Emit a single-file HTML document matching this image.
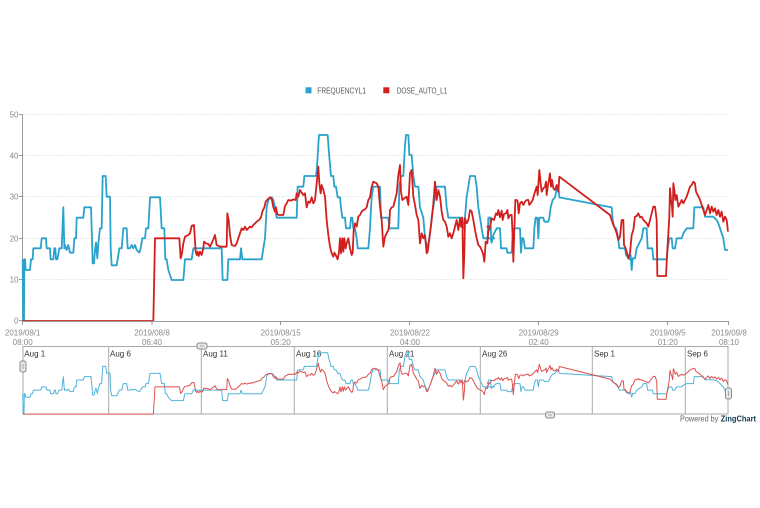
<!DOCTYPE html>
<html><head><meta charset="utf-8"><style>
html,body{margin:0;padding:0;background:#fff;}
svg{display:block;font-family:"Liberation Sans",Arial,sans-serif;}
</style></head><body>
<svg width="760" height="508" viewBox="0 0 760 508" xmlns="http://www.w3.org/2000/svg">
<rect width="760" height="508" fill="#fff"/>
<defs>
<g id="bl" transform="translate(20,120) scale(0.333333)">
<polyline fill="none" vector-effect="non-scaling-stroke" stroke-linejoin="round" points="8,418 10,603 12,603 13,418 15,418 17,450 30,450 33,418 38,418 40,385 62,385 65,355 78,355 80,385 90,385 92,418 100,418 103,385 106,385 108,418 112,418 118,385 125,385 130,262 133,385 135,375 140,390 145,375 150,398 160,398 163,355 168,355 170,293 190,293 193,262 213,262 216,355 218,430 222,430 225,390 228,368 232,415 235,370 240,325 245,325 248,168 257,168 260,230 270,230 272,385 275,436 290,436 293,418 298,385 305,385 310,325 320,325 323,385 330,385 335,375 340,385 345,375 350,390 358,398 362,385 367,355 375,355 378,325 385,325 390,232 420,232 425,325 433,325 436,418 440,418 445,450 455,480 490,480 495,418 515,418 520,385 525,385 605,385 608,480 622,480 625,418 660,418 663,385 667,418 715,418"/>
</g>
<g id="bl2" transform="translate(255,120) scale(0.333333)">
<polyline fill="none" vector-effect="non-scaling-stroke" stroke-linejoin="round" points="10,418 20,418 25,385 30,355 33,300 35,262 40,240 50,232 55,240 60,262 65,293 125,293 128,200 145,200 148,168 183,168 186,140 190,75 192,45 218,45 222,100 228,168 235,168 238,200 243,200 248,232 255,232 258,262 262,293 270,293 273,325 285,325 288,293 292,293 295,325 300,325 305,355 308,385 340,385 345,325 350,230 355,200 375,200 378,293 400,293 403,325 430,325 433,200 438,168 445,168 450,75 453,45 460,45 463,105 470,105 475,168 480,200 490,200 495,262 505,293 510,355 518,385 522,360 527,325 530,293 540,230 545,200 570,200 575,262 580,293 620,293 625,325 630,293 635,230 640,200 645,168 660,168 665,200 670,262 675,293 680,325 685,355 698,355 700,293 706,293 709,365 712,355 720,355"/>
</g>
<g id="bl3" transform="translate(490,120) scale(0.333333)">
<polyline fill="none" vector-effect="non-scaling-stroke" stroke-linejoin="round" points="-15,355 2,355 5,368 10,345 20,325 30,325 33,385 50,385 52,398 65,398 68,345 72,325 90,325 93,398 96,355 100,355 105,385 130,385 133,325 137,293 142,293 145,355 148,293 160,293 163,305 175,305 178,293 182,262 188,240 195,232 200,210 205,198 208,232 365,262 368,300 372,320 378,325 382,340 385,360 388,385 405,385 408,405 418,418 422,405 425,450 428,415 435,415 440,385 455,355 460,325 470,325 473,385 487,385 490,418 530,418 533,385 538,355 545,355 548,385 555,385 560,355 575,355 580,340 590,325 610,325 613,262 640,262 645,290 670,290 675,295 680,300 685,310 690,325 695,340 700,355 705,390 714,390"/>
</g>
<g id="rd" transform="translate(20,120) scale(0.333333)">
<polyline fill="none" vector-effect="non-scaling-stroke" stroke-linejoin="round" points="8,603 400,603 405,355 478,355 482,415 486,400 490,370 495,350 505,345 510,340 515,318 522,315 527,395 530,405 533,395 536,408 540,395 545,405 550,385 552,365 558,370 565,372 570,380 575,370 580,358 585,345 590,375 600,380 620,380 622,280 626,300 630,345 635,375 645,378 650,370 655,355 660,340 665,325 670,330 675,320 680,330 690,320 695,322 700,315 705,310 710,305 715,302"/>
</g>
<g id="rd2" transform="translate(255,120) scale(0.333333)">
<polyline fill="none" vector-effect="non-scaling-stroke" stroke-linejoin="round" points="10,302 12,300 18,292 22,275 28,262 32,245 38,238 45,232 50,235 55,262 60,275 63,262 67,283 72,285 85,285 90,258 95,250 100,240 108,242 115,238 122,240 125,220 130,230 135,210 140,218 145,225 150,220 155,262 160,245 165,248 170,232 175,250 180,240 185,190 190,140 193,190 197,220 200,195 205,210 210,230 215,300 220,345 225,380 230,400 235,410 238,398 242,405 248,418 252,395 255,355 258,400 262,355 265,395 268,355 272,385 275,370 280,355 285,385 290,405 293,398 296,330 300,310 305,320 310,290 315,285 320,275 325,270 330,268 335,262 340,240 345,232 350,200 355,185 365,190 370,200 375,260 380,300 385,380 390,350 395,340 400,330 403,310 405,270 410,262 415,260 420,240 425,220 430,165 435,135 438,215 442,240 448,235 455,230 460,255 465,160 470,150 475,230 480,255 485,285 490,300 495,370 500,340 505,355 510,345 515,400 518,395 525,340 530,300 535,250 540,185 543,215 545,240 550,210 555,230 560,275 565,300 570,305 575,320 580,350 585,340 590,355 595,340 600,320 605,300 610,330 615,295 618,320 622,293 625,475 628,400 630,295 635,310 640,300 645,270 650,275 655,300 660,330 665,355 670,375 675,380 680,390 685,405 688,425 692,365 697,370 700,335 705,320"/>
</g>
<g id="rd3" transform="translate(490,120) scale(0.333333)">
<polyline fill="none" vector-effect="non-scaling-stroke" stroke-linejoin="round" points="-10,320 0,320 5,295 12,300 18,280 22,285 25,270 30,292 35,272 38,300 42,282 48,280 52,270 55,295 60,285 65,285 68,350 70,425 73,330 76,240 80,240 83,245 86,280 90,250 95,245 100,255 105,245 110,240 115,240 118,255 122,250 128,240 132,225 135,215 140,200 143,225 145,195 148,150 152,190 155,215 160,205 165,200 168,185 170,225 173,200 176,185 180,160 183,200 186,180 190,205 195,210 200,195 205,215 208,170 360,285 365,300 370,315 375,325 380,340 385,360 390,350 395,300 400,300 402,375 405,380 410,395 415,415 420,400 425,345 430,330 435,290 440,288 445,280 450,292 455,290 460,300 465,305 470,310 475,320 480,300 485,280 490,260 495,260 500,300 502,468 528,468 532,390 535,340 538,290 540,205 543,240 546,260 548,290 550,190 553,210 556,240 560,225 565,260 570,250 575,240 580,250 585,240 590,230 595,215 600,200 605,195 610,185 615,190 618,215 623,225 628,235 632,245 635,255 640,270 645,285 650,270 655,255 660,280 665,260 670,275 675,265 680,285 685,270 690,290 695,275 700,305 705,290 710,300 714,335"/>
</g>
</defs>

<!-- Legend -->
<rect x="305.5" y="87.3" width="6" height="6" fill="#29a2cc"/>
<text x="317.3" y="93.5" font-size="8" fill="#555" textLength="48.7" lengthAdjust="spacingAndGlyphs">FREQUENCYL1</text>
<rect x="383.3" y="87.3" width="6" height="6" fill="#d31e1e"/>
<text x="396.7" y="93.5" font-size="8" fill="#555" textLength="50.6" lengthAdjust="spacingAndGlyphs">DOSE_AUTO_L1</text>

<!-- Grid -->
<g stroke="#ebebeb" stroke-width="1" stroke-dasharray="2,1">
<line x1="23" y1="114.5" x2="728" y2="114.5"/>
<line x1="23" y1="155.5" x2="728" y2="155.5"/>
<line x1="23" y1="196.5" x2="728" y2="196.5"/>
<line x1="23" y1="238.5" x2="728" y2="238.5"/>
<line x1="23" y1="279.5" x2="728" y2="279.5"/>
</g>

<!-- Y axis -->
<g stroke="#999" stroke-width="1">
<line x1="22.5" y1="114" x2="22.5" y2="321"/>
<line x1="19" y1="114.5" x2="22.5" y2="114.5"/>
<line x1="19" y1="155.5" x2="22.5" y2="155.5"/>
<line x1="19" y1="196.5" x2="22.5" y2="196.5"/>
<line x1="19" y1="238.5" x2="22.5" y2="238.5"/>
<line x1="19" y1="279.5" x2="22.5" y2="279.5"/>
<line x1="19" y1="320.5" x2="22.5" y2="320.5"/>
</g>
<g font-size="8" fill="#8a8a8a" text-anchor="end">
<text x="18.5" y="117.3">50</text>
<text x="18.5" y="158.3">40</text>
<text x="18.5" y="199.5">30</text>
<text x="18.5" y="241.3">20</text>
<text x="18.5" y="282.3">10</text>
<text x="18.5" y="323.5">0</text>
</g>

<!-- Series main -->
<g stroke="#29a2cc" stroke-width="1.8">
<use href="#bl"/><use href="#bl2"/><use href="#bl3"/>
</g>
<g stroke="#d31e1e" stroke-width="1.8">
<use href="#rd"/><use href="#rd2"/><use href="#rd3"/>
</g>

<!-- X axis -->
<g stroke="#999" stroke-width="1">
<line x1="22" y1="321.5" x2="728.5" y2="321.5"/>
<line x1="22.5" y1="321" x2="22.5" y2="325"/>
<line x1="152" y1="321" x2="152" y2="325"/>
<line x1="280.5" y1="321" x2="280.5" y2="325"/>
<line x1="409.5" y1="321" x2="409.5" y2="325"/>
<line x1="538.5" y1="321" x2="538.5" y2="325"/>
<line x1="667.5" y1="321" x2="667.5" y2="325"/>
<line x1="728.5" y1="321" x2="728.5" y2="325"/>
</g>
<g font-size="8" fill="#8a8a8a" text-anchor="middle">
<text x="22.7" y="335.3">2019/08/1</text><text x="22.7" y="345">08:00</text>
<text x="152" y="335.3">2019/08/8</text><text x="152" y="345">06:40</text>
<text x="280.7" y="335.3">2019/08/15</text><text x="280.7" y="345">05:20</text>
<text x="410" y="335.3">2019/08/22</text><text x="410" y="345">04:00</text>
<text x="538.7" y="335.3">2019/08/29</text><text x="538.7" y="345">02:40</text>
<text x="667.8" y="335.3">2019/09/5</text><text x="667.8" y="345">01:20</text>
<text x="729" y="335.3">2019/09/8</text><text x="729" y="345">08:10</text>
</g>

<!-- Preview -->
<rect x="23" y="346.5" width="705" height="67.5" fill="none" stroke="#aaa" stroke-width="1"/>
<g stroke="#aaa" stroke-width="1">
<line x1="108.7" y1="346.5" x2="108.7" y2="414"/>
<line x1="201.3" y1="346.5" x2="201.3" y2="414"/>
<line x1="294.3" y1="346.5" x2="294.3" y2="414"/>
<line x1="387.3" y1="346.5" x2="387.3" y2="414"/>
<line x1="480.3" y1="346.5" x2="480.3" y2="414"/>
<line x1="592.3" y1="346.5" x2="592.3" y2="414"/>
<line x1="685.3" y1="346.5" x2="685.3" y2="414"/>
</g>
<g font-size="8" fill="#333">
<text x="24.3" y="356.3">Aug 1</text>
<text x="110" y="356.3">Aug 6</text>
<text x="203" y="356.3">Aug 11</text>
<text x="296" y="356.3">Aug 16</text>
<text x="389" y="356.3">Aug 21</text>
<text x="482" y="356.3">Aug 26</text>
<text x="594" y="356.3">Sep 1</text>
<text x="687" y="356.3">Sep 6</text>
</g>
<g transform="matrix(1,0,0,0.3295,0,308.33)">
<g stroke="#4fb3da" stroke-width="1">
<use href="#bl"/><use href="#bl2"/><use href="#bl3"/>
</g>
<g stroke="#de4f4f" stroke-width="1">
<use href="#rd"/><use href="#rd2"/><use href="#rd3"/>
</g>
</g>

<!-- Handles -->
<g fill="#e6e6e6" stroke="#8c8c8c" stroke-width="1">
<rect x="20" y="361" width="6" height="11" rx="2"/>
<rect x="197" y="343" width="10" height="6" rx="2"/>
<rect x="725.5" y="388" width="6" height="11" rx="2"/>
<rect x="545.5" y="412" width="9" height="6" rx="2"/>
</g>
<g stroke="#aaa" stroke-width="1">
<line x1="23" y1="364" x2="23" y2="369"/>
<line x1="728.5" y1="391" x2="728.5" y2="396"/>
<line x1="200" y1="346" x2="204" y2="346"/>
<line x1="548" y1="415" x2="552" y2="415"/>
</g>

<!-- Powered by -->
<text x="680" y="421.7" font-size="8.5" fill="#666" textLength="38.3" lengthAdjust="spacingAndGlyphs">Powered by</text>
<text x="720.7" y="421.7" font-size="8.5" font-weight="bold" fill="#0c3b4e" textLength="35.3" lengthAdjust="spacingAndGlyphs">ZingChart</text>
</svg>
</body></html>
